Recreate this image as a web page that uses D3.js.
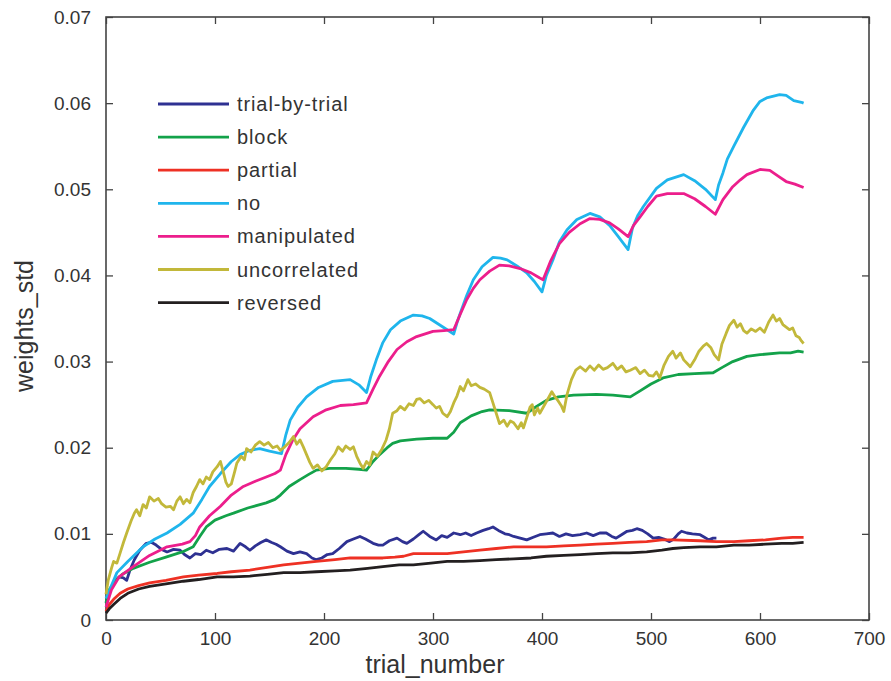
<!DOCTYPE html>
<html>
<head>
<meta charset="utf-8">
<script src="https://cdn.jsdelivr.net/npm/d3@7"></script>
<style>
    body { margin: 0; background: #fff; }
    svg { display: block; font-family: "Liberation Sans", Arial, sans-serif; }
</style>
</head>
<body>
<svg id="chart" width="891" height="681"></svg>
<script>
// data: [trial_number, weights_std]
const trialByTrial = [[0,0.0020],[4,0.0035],[8,0.0045],[12,0.0050],[16,0.0049],[19,0.0046],[22,0.0058],[26,0.0070],[31,0.0081],[37,0.0089],[42,0.0090],[46,0.0087],[51,0.0082],[56,0.0079],[62,0.0082],[68,0.0081],[72,0.0076],[77,0.0072],[82,0.0077],[87,0.0076],[92,0.0081],[98,0.0078],[104,0.0082],[111,0.0083],[117,0.0080],[123,0.0089],[128,0.0085],[132,0.0081],[137,0.0086],[142,0.0090],[147,0.0093],[152,0.0090],[156,0.0088],[160,0.0085],[166,0.0080],[172,0.0077],[178,0.0079],[184,0.0077],[189,0.0072],[193,0.0070],[198,0.0072],[203,0.0076],[208,0.0077],[214,0.0083],[221,0.0091],[227,0.0094],[233,0.0097],[238,0.0094],[245,0.0089],[250,0.0087],[254,0.0087],[260,0.0092],[267,0.0095],[272,0.0091],[276,0.0089],[282,0.0094],[287,0.0099],[291,0.0103],[297,0.0097],[303,0.0093],[308,0.0098],[313,0.0096],[319,0.0101],[325,0.0099],[330,0.0101],[335,0.0098],[340,0.0101],[346,0.0104],[351,0.0106],[355,0.0108],[360,0.0104],[366,0.0100],[370,0.0099],[374,0.0097],[380,0.0095],[386,0.0093],[392,0.0096],[398,0.0099],[404,0.0100],[410,0.0101],[416,0.0097],[422,0.0100],[428,0.0098],[435,0.0099],[441,0.0101],[447,0.0098],[453,0.0101],[459,0.0101],[464,0.0097],[468,0.0095],[473,0.0099],[478,0.0103],[483,0.0104],[487,0.0106],[492,0.0104],[497,0.0100],[502,0.0095],[507,0.0096],[512,0.0094],[517,0.0091],[521,0.0094],[525,0.0100],[528,0.0103],[533,0.0101],[538,0.0100],[545,0.0099],[549,0.0096],[553,0.0093],[557,0.0095],[560,0.0095]];

const block = [[0,0.0020],[3,0.0035],[8,0.0045],[15,0.0053],[25,0.0060],[40,0.0067],[55,0.0073],[70,0.0079],[80,0.0085],[86,0.0097],[92,0.0108],[100,0.0116],[110,0.0121],[117,0.0124],[130,0.0130],[147,0.0136],[155,0.0140],[160,0.0145],[168,0.0155],[178,0.0163],[186,0.0169],[193,0.0174],[205,0.0176],[220,0.0176],[232,0.0175],[239,0.0174],[245,0.0184],[251,0.0192],[258,0.0200],[263,0.0205],[270,0.0208],[285,0.0210],[300,0.0211],[313,0.0211],[319,0.0218],[325,0.0229],[335,0.0237],[345,0.0242],[352,0.0244],[370,0.0243],[386,0.0240],[395,0.0248],[404,0.0255],[415,0.0259],[429,0.0261],[450,0.0262],[465,0.0261],[481,0.0259],[490,0.0266],[500,0.0274],[511,0.0281],[525,0.0285],[540,0.0286],[557,0.0287],[565,0.0293],[575,0.0300],[588,0.0306],[600,0.0308],[618,0.0310],[628,0.0310],[635,0.0312],[640,0.0311]];

const partial = [[0,0.0010],[3,0.0018],[7,0.0024],[13,0.0031],[20,0.0036],[30,0.0040],[40,0.0043],[55,0.0046],[71,0.0050],[85,0.0052],[102,0.0054],[115,0.0056],[132,0.0058],[148,0.0061],[163,0.0064],[178,0.0066],[193,0.0068],[210,0.0070],[224,0.0072],[240,0.0072],[254,0.0072],[265,0.0073],[273,0.0074],[282,0.0077],[300,0.0077],[313,0.0077],[328,0.0079],[343,0.0081],[358,0.0083],[374,0.0085],[390,0.0085],[404,0.0085],[420,0.0086],[435,0.0087],[450,0.0088],[465,0.0089],[480,0.0090],[496,0.0091],[510,0.0093],[520,0.0093],[545,0.0092],[560,0.0091],[576,0.0091],[590,0.0092],[605,0.0093],[620,0.0095],[630,0.0096],[640,0.0096]];

const noManip = [[0,0.0025],[10,0.0055],[20,0.0068],[34,0.0085],[45,0.0094],[56,0.0101],[68,0.0111],[80,0.0124],[88,0.0140],[95,0.0155],[105,0.0170],[115,0.0184],[123,0.0192],[132,0.0197],[141,0.0199],[150,0.0196],[161,0.0193],[165,0.0215],[169,0.0232],[176,0.0247],[184,0.0259],[195,0.0270],[208,0.0277],[224,0.0279],[232,0.0273],[239,0.0264],[243,0.0283],[248,0.0302],[254,0.0322],[261,0.0337],[270,0.0347],[282,0.0354],[290,0.0353],[297,0.0350],[308,0.0341],[319,0.0332],[322,0.0345],[325,0.0356],[331,0.0377],[337,0.0395],[345,0.0410],[355,0.0421],[362,0.0420],[368,0.0418],[377,0.0411],[386,0.0403],[393,0.0393],[400,0.0381],[404,0.0400],[410,0.0418],[416,0.0439],[423,0.0453],[432,0.0465],[444,0.0472],[453,0.0468],[462,0.0458],[470,0.0445],[479,0.0430],[483,0.0455],[488,0.0470],[493,0.0480],[505,0.0501],[515,0.0511],[530,0.0517],[540,0.0510],[550,0.0500],[559,0.0488],[562,0.0505],[566,0.0519],[570,0.0535],[576,0.0550],[585,0.0572],[594,0.0592],[600,0.0602],[606,0.0606],[618,0.0610],[624,0.0609],[631,0.0603],[638,0.0601],[640,0.0600]];

const manipulated = [[0,0.0015],[5,0.0035],[12,0.0050],[25,0.0062],[40,0.0075],[56,0.0085],[70,0.0088],[77,0.0091],[82,0.0098],[86,0.0108],[95,0.0121],[105,0.0132],[115,0.0145],[126,0.0155],[137,0.0161],[147,0.0166],[155,0.0170],[160,0.0174],[165,0.0192],[171,0.0208],[178,0.0222],[190,0.0236],[202,0.0244],[215,0.0249],[227,0.0250],[239,0.0252],[245,0.0268],[251,0.0283],[259,0.0300],[267,0.0314],[276,0.0323],[285,0.0329],[300,0.0335],[310,0.0336],[319,0.0337],[325,0.0355],[331,0.0372],[337,0.0385],[343,0.0395],[352,0.0405],[361,0.0412],[370,0.0411],[380,0.0408],[390,0.0403],[398,0.0397],[401,0.0395],[408,0.0417],[416,0.0437],[425,0.0450],[435,0.0460],[444,0.0466],[453,0.0465],[462,0.0461],[470,0.0454],[479,0.0445],[484,0.0458],[490,0.0468],[497,0.0480],[505,0.0492],[515,0.0495],[530,0.0495],[540,0.0489],[550,0.0480],[559,0.0471],[566,0.0488],[575,0.0503],[582,0.0511],[588,0.0517],[600,0.0523],[609,0.0522],[617,0.0515],[624,0.0509],[632,0.0506],[640,0.0502]];

const uncorrelated = [[0,0.0030],[2,0.0046],[5,0.0060],[7,0.0068],[10,0.0066],[13,0.0078],[16,0.0090],[19,0.0101],[23,0.0115],[26,0.0124],[28,0.0128],[31,0.0121],[34,0.0134],[37,0.0130],[40,0.0143],[44,0.0138],[48,0.0141],[51,0.0135],[55,0.0131],[59,0.0132],[62,0.0128],[65,0.0138],[68,0.0143],[71,0.0135],[74,0.0140],[77,0.0136],[80,0.0148],[83,0.0155],[86,0.0163],[89,0.0158],[92,0.0166],[95,0.0163],[98,0.0172],[102,0.0178],[105,0.0184],[108,0.0170],[110,0.0160],[112,0.0155],[115,0.0158],[118,0.0172],[120,0.0182],[124,0.0190],[127,0.0186],[129,0.0199],[133,0.0195],[137,0.0203],[141,0.0207],[145,0.0203],[149,0.0206],[153,0.0200],[157,0.0202],[160,0.0197],[164,0.0201],[168,0.0206],[172,0.0213],[175,0.0204],[178,0.0209],[181,0.0201],[184,0.0192],[187,0.0183],[190,0.0176],[194,0.0180],[198,0.0173],[202,0.0178],[206,0.0186],[210,0.0193],[213,0.0201],[217,0.0196],[220,0.0202],[224,0.0198],[227,0.0201],[230,0.0190],[233,0.0182],[236,0.0176],[239,0.0184],[242,0.0180],[245,0.0195],[249,0.0190],[253,0.0198],[257,0.0209],[260,0.0222],[263,0.0240],[267,0.0243],[270,0.0248],[274,0.0244],[278,0.0251],[282,0.0249],[285,0.0256],[288,0.0257],[292,0.0252],[296,0.0255],[300,0.0250],[303,0.0246],[306,0.0248],[309,0.0240],[313,0.0236],[316,0.0242],[319,0.0252],[322,0.0260],[325,0.0271],[328,0.0266],[332,0.0279],[335,0.0272],[339,0.0274],[343,0.0270],[347,0.0268],[352,0.0264],[355,0.0252],[358,0.0240],[361,0.0228],[365,0.0232],[368,0.0225],[371,0.0231],[374,0.0229],[378,0.0222],[381,0.0229],[383,0.0223],[386,0.0235],[389,0.0247],[391,0.0250],[393,0.0238],[396,0.0246],[398,0.0240],[402,0.0249],[406,0.0258],[409,0.0265],[412,0.0259],[415,0.0254],[418,0.0248],[420,0.0242],[423,0.0262],[427,0.0279],[431,0.0290],[435,0.0294],[440,0.0289],[444,0.0295],[448,0.0290],[452,0.0296],[456,0.0291],[460,0.0293],[465,0.0298],[469,0.0291],[473,0.0295],[477,0.0288],[481,0.0290],[486,0.0293],[490,0.0286],[494,0.0290],[498,0.0284],[502,0.0283],[505,0.0288],[508,0.0281],[512,0.0296],[516,0.0306],[520,0.0312],[523,0.0304],[527,0.0310],[530,0.0302],[533,0.0298],[536,0.0294],[540,0.0302],[544,0.0312],[548,0.0318],[551,0.0321],[555,0.0316],[558,0.0308],[562,0.0302],[565,0.0320],[569,0.0333],[572,0.0342],[576,0.0348],[579,0.0340],[582,0.0344],[585,0.0336],[588,0.0333],[592,0.0338],[596,0.0335],[600,0.0339],[604,0.0334],[608,0.0346],[612,0.0354],[615,0.0347],[618,0.0350],[621,0.0343],[624,0.0340],[627,0.0337],[630,0.0339],[633,0.0330],[636,0.0328],[638,0.0324],[640,0.0321]];

const reversed = [[0,0.0008],[3,0.0013],[7,0.0018],[13,0.0025],[20,0.0031],[30,0.0036],[40,0.0039],[55,0.0042],[71,0.0045],[85,0.0047],[102,0.0050],[117,0.0050],[132,0.0051],[148,0.0053],[163,0.0055],[178,0.0055],[193,0.0056],[210,0.0057],[224,0.0058],[240,0.0060],[254,0.0062],[269,0.0064],[282,0.0064],[298,0.0066],[313,0.0068],[328,0.0068],[343,0.0069],[358,0.0070],[374,0.0071],[390,0.0072],[404,0.0074],[420,0.0075],[435,0.0076],[450,0.0077],[465,0.0078],[480,0.0078],[496,0.0079],[510,0.0081],[520,0.0083],[530,0.0084],[545,0.0085],[560,0.0085],[576,0.0087],[590,0.0087],[605,0.0088],[620,0.0089],[630,0.0089],[640,0.0090]];

const seriesNames = ["trial-by-trial", "block", "partial", "no", "manipulated", "uncorrelated", "reversed"];
const seriesData = [trialByTrial, block, partial, noManip, manipulated, uncorrelated, reversed];
const seriesColors = ["#2e3192", "#13a24a", "#ee3124", "#1fb5ec", "#ec1e8c", "#c2b83a", "#231f20"];

const xTicks = [0, 100, 200, 300, 400, 500, 600, 700];
const yTicks = [0, 0.01, 0.02, 0.03, 0.04, 0.05, 0.06, 0.07];

const dimensions = { width: 891, height: 681 };
const margin = { top: 17, right: 22, bottom: 61, left: 106 };

const svg = d3.select("#chart");

const xScale = d3.scaleLinear()
    .domain([0, 700])
    .range([margin.left, dimensions.width - margin.right]);
const yScale = d3.scaleLinear()
    .domain([0, 0.07])
    .range([dimensions.height - margin.bottom, margin.top]);

const axisColor = "#444";
const labelColor = "#333";

const styleAxis = (g) => {
    g.select(".domain").remove();
    g.selectAll(".tick line").attr("stroke", axisColor).attr("stroke-width", 1.3);
    g.selectAll("text")
        .attr("fill", labelColor)
        .style("font-size", "19px");
};

// ticks point inwards, like the matlab box
const xFmt = (d) => String(d);
const yFmt = (d) => (d === 0 ? "0" : d3.format(".2f")(d));

svg.append("g")
    .attr("transform", `translate(0, ${yScale(0)})`)
    .call(d3.axisBottom(xScale).tickValues(xTicks).tickFormat(xFmt).tickSizeInner(-7).tickPadding(12))
    .call(styleAxis);
svg.append("g")
    .attr("transform", `translate(0, ${yScale(0.07)})`)
    .call(d3.axisTop(xScale).tickValues(xTicks).tickFormat("").tickSizeInner(-7))
    .call(styleAxis);
svg.append("g")
    .attr("transform", `translate(${xScale(0)}, 0)`)
    .call(d3.axisLeft(yScale).tickValues(yTicks).tickFormat(yFmt).tickSizeInner(-7).tickPadding(15))
    .call(styleAxis);
svg.append("g")
    .attr("transform", `translate(${xScale(700)}, 0)`)
    .call(d3.axisRight(yScale).tickValues(yTicks).tickFormat("").tickSizeInner(-7))
    .call(styleAxis);

svg.append("rect")
    .attr("x", xScale(0))
    .attr("y", yScale(0.07))
    .attr("width", xScale(700) - xScale(0))
    .attr("height", yScale(0) - yScale(0.07))
    .attr("fill", "none")
    .attr("stroke", axisColor)
    .attr("stroke-width", 1.6);

const line = d3.line()
    .x((d) => xScale(d[0]))
    .y((d) => yScale(d[1]));

svg.append("g")
    .selectAll("path")
    .data(seriesData)
    .join("path")
    .attr("d", line)
    .attr("fill", "none")
    .attr("stroke", (d, i) => seriesColors[i])
    .attr("stroke-width", 2.8)
    .attr("stroke-linejoin", "round");

// legend (no box)
const legend = svg.append("g");
const legendRows = legend.selectAll("g")
    .data(seriesNames)
    .join("g")
    .attr("transform", (d, i) => `translate(158, ${104 + i * 33.1})`);
legendRows.append("line")
    .attr("x1", 0)
    .attr("x2", 71)
    .attr("stroke", (d, i) => seriesColors[i])
    .attr("stroke-width", 2.8);
legendRows.append("text")
    .attr("x", 79)
    .attr("dy", "0.35em")
    .attr("fill", labelColor)
    .style("font-size", "20px")
    .style("letter-spacing", "0.9px")
    .text((d) => d);

svg.append("text")
    .attr("x", 435)
    .attr("y", 673)
    .attr("text-anchor", "middle")
    .attr("fill", labelColor)
    .style("font-size", "25px")
    .text("trial_number");

svg.append("text")
    .attr("transform", "translate(33, 326) rotate(-90)")
    .attr("text-anchor", "middle")
    .attr("fill", labelColor)
    .style("font-size", "25px")
    .text("weights_std");
</script>
</body>
</html>
